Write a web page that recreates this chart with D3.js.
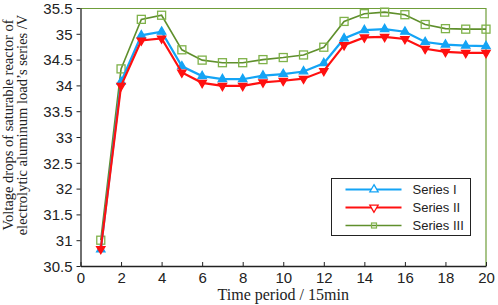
<!DOCTYPE html>
<html>
<head>
<meta charset="utf-8">
<script src="https://cdn.jsdelivr.net/npm/d3@7"></script>
<style>
  body { margin: 0; background: #fff; }
  .tick text { font-family: "Liberation Sans", Arial, sans-serif; font-size: 15px; fill: #222; }
</style>
</head>
<body>
<div id="chart"></div>
<script>
// dados
var periods = d3.range(1, 21);
var seriesI   = [30.82, 34.07, 34.97, 35.04, 34.37, 34.18, 34.12, 34.12, 34.19, 34.22, 34.27, 34.43, 34.91, 35.07, 35.09, 35.04, 34.84, 34.79, 34.77, 34.76];
var seriesII  = [30.83, 33.99, 34.87, 34.91, 34.25, 34.05, 33.99, 33.99, 34.06, 34.09, 34.13, 34.28, 34.78, 34.93, 34.94, 34.90, 34.71, 34.65, 34.63, 34.63];
var seriesIII = [31.00, 34.32, 35.28, 35.36, 34.69, 34.49, 34.44, 34.44, 34.50, 34.54, 34.59, 34.74, 35.24, 35.39, 35.42, 35.37, 35.18, 35.10, 35.09, 35.09];
var seriesNames = ["Series I", "Series II", "Series III"];
var xTicks = [0, 2, 4, 6, 8, 10, 12, 14, 16, 18, 20];
var yTicks = [30.5, 31, 31.5, 32, 32.5, 33, 33.5, 34, 34.5, 35, 35.5];

var W = 498, H = 305;
var margin = { top: 8, right: 12, bottom: 39, left: 80.5 };
var width = W - margin.left - margin.right;
var height = H - margin.top - margin.bottom;

var svg = d3.select("#chart").append("svg")
    .attr("width", W).attr("height", H)
    .append("g")
    .attr("transform", "translate(" + margin.left + "," + margin.top + ")");

var x = d3.scaleLinear().domain([0, 20]).range([0, width]);
var y = d3.scaleLinear().domain([30.5, 35.5]).range([height, 0]);

// caixa verde (topo e direita)
svg.append("path")
    .attr("d", "M0,0.5H" + width + "V" + height)
    .attr("fill", "none").attr("stroke", "#6f9e3a").attr("stroke-width", 1.2);

// eixos
var xAxis = svg.append("g")
    .attr("transform", "translate(0," + height + ")")
    .call(d3.axisBottom(x).tickValues(xTicks).tickSizeInner(-4).tickSizeOuter(0).tickPadding(6).tickFormat(d3.format("d")));
var yAxis = svg.append("g")
    .call(d3.axisLeft(y).tickValues(yTicks).tickSizeInner(4).tickSizeOuter(0).tickPadding(4).tickFormat(function(d) { return String(d); }));
[xAxis, yAxis].forEach(function(a) {
    a.select(".domain").attr("stroke", "#222").attr("stroke-width", 1.3);
    a.selectAll(".tick line").attr("stroke", "#222");
});
yAxis.selectAll(".tick text").attr("dy", "0.35em");

// titulos
svg.append("text")
    .attr("x", width / 2).attr("y", H - margin.top - 5)
    .attr("text-anchor", "middle")
    .style("font-family", "'Liberation Serif', 'Times New Roman', serif")
    .style("font-size", "16px").style("fill", "#222")
    .text("Time period / 15min");

var yt = svg.append("text")
    .attr("transform", "translate(" + (-margin.left + 13) + "," + (height / 2 - 12) + ") rotate(-90)")
    .attr("text-anchor", "middle")
    .style("font-family", "'Liberation Serif', 'Times New Roman', serif")
    .style("font-size", "14.5px").style("fill", "#222");
yt.append("tspan").attr("x", 0).attr("dy", 0).text("Voltage drops of saturable reactor of");
yt.append("tspan").attr("x", 0).attr("dy", 14).text("electrolytic aluminum load\u2019s series /V");

// series
var series = [
    { name: seriesNames[2], values: seriesIII, color: "#5f8f2c", marker: "#7fb24a", sym: "square", lw: 1.6 },
    { name: seriesNames[0], values: seriesI, color: "#14a4f5", marker: "#14a4f5", sym: "up", lw: 2.2 },
    { name: seriesNames[1], values: seriesII, color: "#ff1010", marker: "#ff1010", sym: "down", lw: 2.2 }
];

var line = d3.line()
    .x(function(d, i) { return x(periods[i]); })
    .y(function(d) { return y(d); });

var triUp = d3.symbol().type(d3.symbolTriangle).size(30);

function drawMarker(g, s, cx, cy, hollow) {
    if (s.sym === "square") {
        g.append("rect").attr("x", cx - 4).attr("y", cy - 4).attr("width", 8).attr("height", 8)
            .attr("fill", "none").attr("stroke", s.marker).attr("stroke-width", 1.3);
    } else {
        var rot = s.sym === "down" ? 180 : 0;
        g.append("path").attr("d", triUp())
            .attr("transform", "translate(" + cx + "," + cy + ") rotate(" + rot + ")")
            .attr("fill", hollow ? "#fff" : s.marker)
            .attr("stroke", s.marker).attr("stroke-width", 1.3);
    }
}

series.forEach(function(s) {
    var g = svg.append("g");
    g.append("path").datum(s.values)
        .attr("d", line)
        .attr("fill", "none").attr("stroke", s.color).attr("stroke-width", s.lw);
    s.values.forEach(function(v, i) {
        drawMarker(g, s, x(periods[i]), y(v), false);
    });
});

// legenda
var lg = svg.append("g").attr("transform", "translate(" + (331.5 - margin.left) + "," + (178.5 - margin.top) + ")");
lg.append("rect").attr("width", 139).attr("height", 57)
    .attr("fill", "#fff").attr("stroke", "#222").attr("stroke-width", 1);
var legendOrder = [series[1], series[2], series[0]].sort(function(a, b) { return seriesNames.indexOf(a.name) - seriesNames.indexOf(b.name); });
legendOrder.forEach(function(s, i) {
    var ly = 11 + i * 18;
    lg.append("line").attr("x1", 14).attr("x2", 70).attr("y1", ly).attr("y2", ly)
        .attr("stroke", s.color).attr("stroke-width", s.lw);
    if (s.sym === "square") {
        lg.append("rect").attr("x", 40).attr("y", ly - 2.5).attr("width", 5).attr("height", 5)
            .attr("fill", "none").attr("stroke", s.marker).attr("stroke-width", 1.2);
    } else {
        drawMarker(lg, s, 42.5, ly, true);
    }
    lg.append("text").attr("x", 81).attr("y", ly).attr("dy", "0.35em")
        .style("font-family", "'Liberation Sans', Arial, sans-serif")
        .style("font-size", "13px").style("fill", "#222")
        .text(s.name);
});
</script>
</body>
</html>
